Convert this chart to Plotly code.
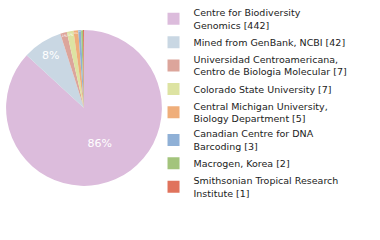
import math
import plotly.graph_objects as go

labels = [
    "Centre for Biodiversity<br>Genomics [442]",
    "Mined from GenBank, NCBI [42]",
    "Universidad Centroamericana,<br>Centro de Biologia Molecular [7]",
    "Colorado State University [7]",
    "Central Michigan University,<br>Biology Department [5]",
    "Canadian Centre for DNA<br>Barcoding [3]",
    "Macrogen, Korea [2]",
    "Smithsonian Tropical Research<br>Institute [1]",
]
values = [442, 42, 7, 7, 5, 3, 2, 1]
colors = ["#dcbcdc", "#c9d7e3", "#dca59b", "#dde3a2", "#efae7a", "#8fb0d6", "#a3c47c", "#e0735c"]

total = sum(values)
texts = [f"{math.floor(v * 100 / total)}%" for v in values]

fig = go.Figure(go.Pie(
    labels=labels,
    values=values,
    text=texts,
    textinfo="text",
    textposition="inside",
    insidetextorientation="horizontal",
    textfont=dict(color="white", size=11, family="DejaVu Sans"),
    marker=dict(colors=colors, line=dict(width=0)),
    sort=False,
    direction="clockwise",
    rotation=0,
    domain=dict(x=[0.016, 0.426], y=[0.225, 0.875]),
    hoverinfo="label+value",
))

fig.update_layout(
    width=380, height=240,
    margin=dict(l=0, r=0, t=0, b=0),
    paper_bgcolor="white",
    plot_bgcolor="white",
    showlegend=True,
    legend=dict(
        x=0.404, y=1.0, xanchor="left", yanchor="top",
        font=dict(family="DejaVu Sans", size=9.5, color="#222"),
        itemwidth=30,
        tracegroupgap=0,
        bgcolor="rgba(0,0,0,0)",
    ),
)

fig.write_html("out.html")
